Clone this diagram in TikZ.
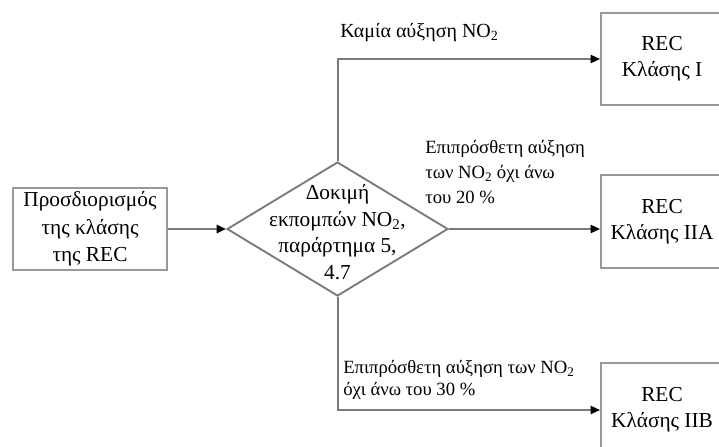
\documentclass[tikz,border=0pt]{standalone}
\usepackage{fontspec}
\setmainfont{Liberation Serif}
\usetikzlibrary{arrows.meta,shapes.geometric}
\definecolor{linegray}{HTML}{7a7a7a}
\definecolor{boxgray}{HTML}{999999}
\begin{document}
\begin{tikzpicture}[x=0.75pt,y=-0.75pt,
  box/.style={draw=boxgray, line width=1.4pt, fill=white, inner sep=0pt, align=center, font=\fontsize{16}{19.5}\selectfont},
  conn/.style={draw=linegray, line width=1.5pt, -{Triangle[length=7pt,width=6pt,color=black]}},
  lbl/.style={inner sep=0pt, align=left, anchor=west}
]
\useasboundingbox (0,0) rectangle (719,447);
\clip (0,0) rectangle (719,447);

\node[box, minimum width=115.5pt, minimum height=61.5pt, font=\fontsize{16}{20.5}\selectfont] (src) at (90,229) {Προσδιορισμός\\της κλάσης\\της REC};
\node[diamond, draw=linegray, line width=1.4pt, minimum width=165.75pt, minimum height=100.5pt, inner sep=0pt] (test) at (337.5,229) {};
\node[align=center, inner sep=0pt, font=\fontsize{16}{20}\selectfont] (testtxt) at (337.5,232) {Δοκιμή\\εκπομπών NO\textsubscript{2},\\παράρτημα 5,\\4.7};

\node[box, minimum width=91.5pt, minimum height=69pt] (c1) at (662,59) {REC\\Κλάσης I};
\node[box, minimum width=91.5pt, minimum height=70pt] (c2) at (662,221.5) {REC\\Κλάσης IIA};
\node[box, minimum width=91.5pt, minimum height=70pt] (c3) at (662,410) {REC\\Κλάσης IIB};

\draw[conn, line width=2pt] (src) -- (test.west);
\draw[conn] (test.north) |- (c1.west);
\draw[conn] (test.east) -- (test.east -| c2.west);
\draw[conn] (test.south) |- (c3.west);

\node[lbl, font=\fontsize{15}{18}\selectfont] (l1) at (340,33) {Καμία αύξηση NO\textsubscript{2}};
\node[lbl, font=\fontsize{14}{18.75}\selectfont] (l2) at (425,172) {Επιπρόσθετη αύξηση\\των NO\textsubscript{2} όχι άνω\\του 20 \%};
\node[lbl, font=\fontsize{14}{16.5}\selectfont] (l3) at (343,380) {Επιπρόσθετη αύξηση των NO\textsubscript{2}\\όχι άνω του 30 \%};
\end{tikzpicture}
\end{document}
